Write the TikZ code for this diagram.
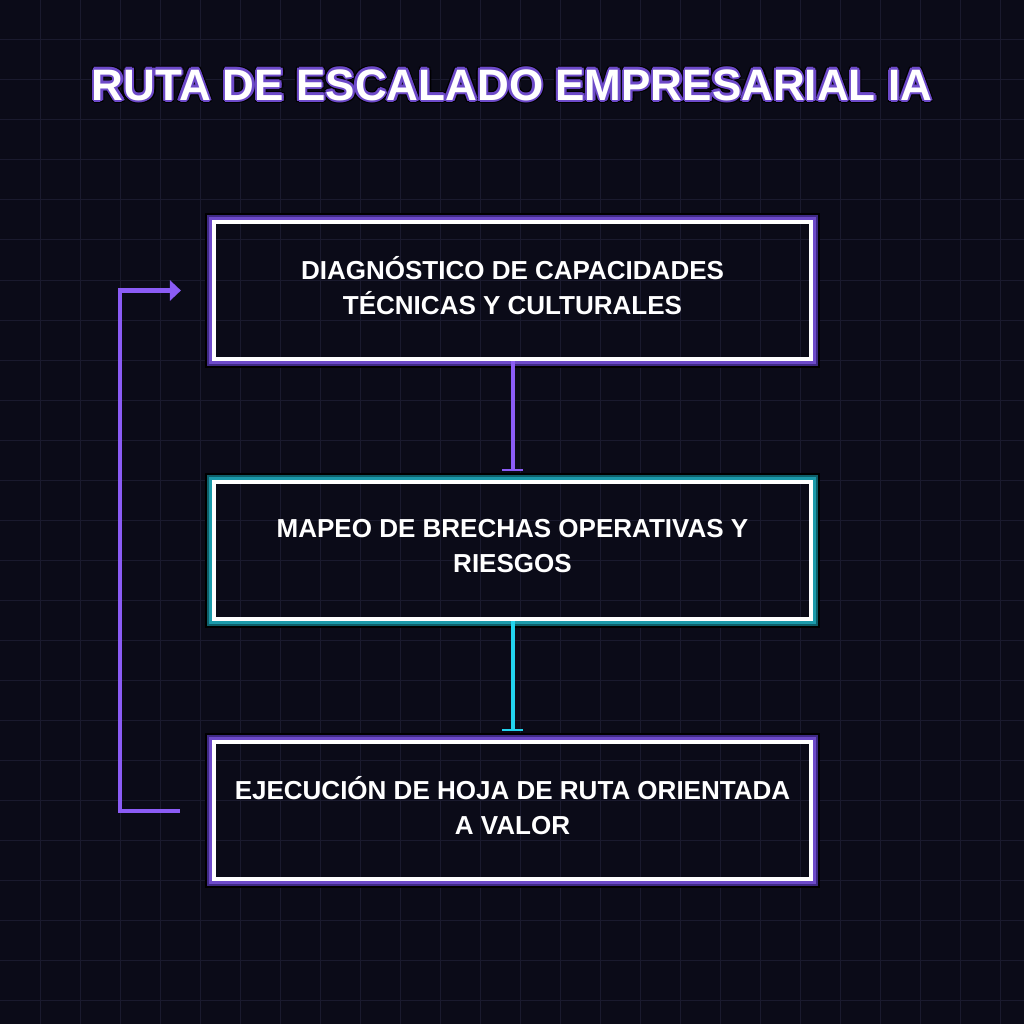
\documentclass[tikz,border=0pt]{standalone}
\usepackage{fontspec}
\setmainfont{Liberation Sans}
\usetikzlibrary{arrows.meta, positioning}
\definecolor{cBack}{HTML}{0B0B18}
\definecolor{cGrid}{HTML}{1A1A2E}
\definecolor{cPurple}{HTML}{8B5CF6}
\definecolor{cPurpleLt}{HTML}{6D4AC9}
\definecolor{cPurpleDk}{HTML}{3F2A85}
\definecolor{cTeal}{HTML}{22D3EE}
\definecolor{cTealLt}{HTML}{1B9AAA}
\definecolor{cTealDk}{HTML}{0E5F6A}
\begin{document}
\begin{tikzpicture}[x=0.025cm, y=-0.025cm,
  gridline/.style={cGrid, line width=0.025cm},
  stage/.style={draw=white, line width=0.1cm, minimum width=14.925cm, minimum height=3.425cm,
    align=center, text=white, text depth=0.24cm, font=\bfseries\fontsize{18.5}{24.9}\selectfont},
  title/.style={font=\bfseries\fontsize{31.3}{31.3}\selectfont},
  link/.style={line width=0.1cm, -{Bar[width=0.525cm, line width=1.4pt 0]}, shorten >=0.225cm},
  back/.style={cPurple, line width=0.1cm, -{Triangle[length=0.275cm, width=0.5cm]}}]
  \useasboundingbox (0,0) rectangle (1024,1024);
  \fill[cBack] (0,0) rectangle (1024,1024);
  \foreach \g in {40,80,...,1000} {
    \draw[gridline] (\g,0) -- (\g,1024);
    \draw[gridline] (0,\g) -- (1024,\g);
  }
  % title with outline
  \foreach \a in {0,45,...,315}
    \node[title, text=black, shift={(\a:0.09cm)}] (tb\a) at (512,85) {RUTA DE ESCALADO EMPRESARIAL IA};
  \foreach \a in {0,45,...,315}
    \node[title, text=cPurpleLt, shift={(\a:0.055cm)}] (tp\a) at (512,85) {RUTA DE ESCALADO EMPRESARIAL IA};
  \node[title, text=white] (title) at (512,85) {RUTA DE ESCALADO EMPRESARIAL IA};
  % stages
  \node[stage] (box1) at (512.5,290.5) {DIAGNÓSTICO DE CAPACIDADES\\TÉCNICAS Y CULTURALES};
  \node[stage, below=2.975cm of box1] (box2) {MAPEO DE BRECHAS OPERATIVAS Y\\RIESGOS};
  \node[stage, below=2.975cm of box2] (box3) {EJECUCIÓN DE HOJA DE RUTA ORIENTADA\\A VALOR};
  \foreach \b/\lt/\dk in {box1/cPurpleLt/cPurpleDk, box2/cTealLt/cTealDk, box3/cPurpleLt/cPurpleDk} {
    \draw[black, line width=0.175cm] ([shift={(-0.0875cm,0.0875cm)}]\b.north west) rectangle ([shift={(0.0875cm,-0.0875cm)}]\b.south east);
    \draw[\dk, line width=0.125cm] ([shift={(-0.0625cm,0.0625cm)}]\b.north west) rectangle ([shift={(0.0625cm,-0.0625cm)}]\b.south east);
    \draw[\lt, line width=0.075cm] ([shift={(-0.0375cm,0.0375cm)}]\b.north west) rectangle ([shift={(0.0375cm,-0.0375cm)}]\b.south east);
  }
  % connectors
  \draw[link, cPurple] (box1) -- (box2);
  \draw[link, cTeal] (box2) -- (box3);
  \coordinate[left=0.8cm of box3.west] (loopS);
  \coordinate[left=0.775cm of box1.west] (loopE);
  \draw[back] (loopS) -- ++(-60,0) |- (loopE);
\end{tikzpicture}
\end{document}
